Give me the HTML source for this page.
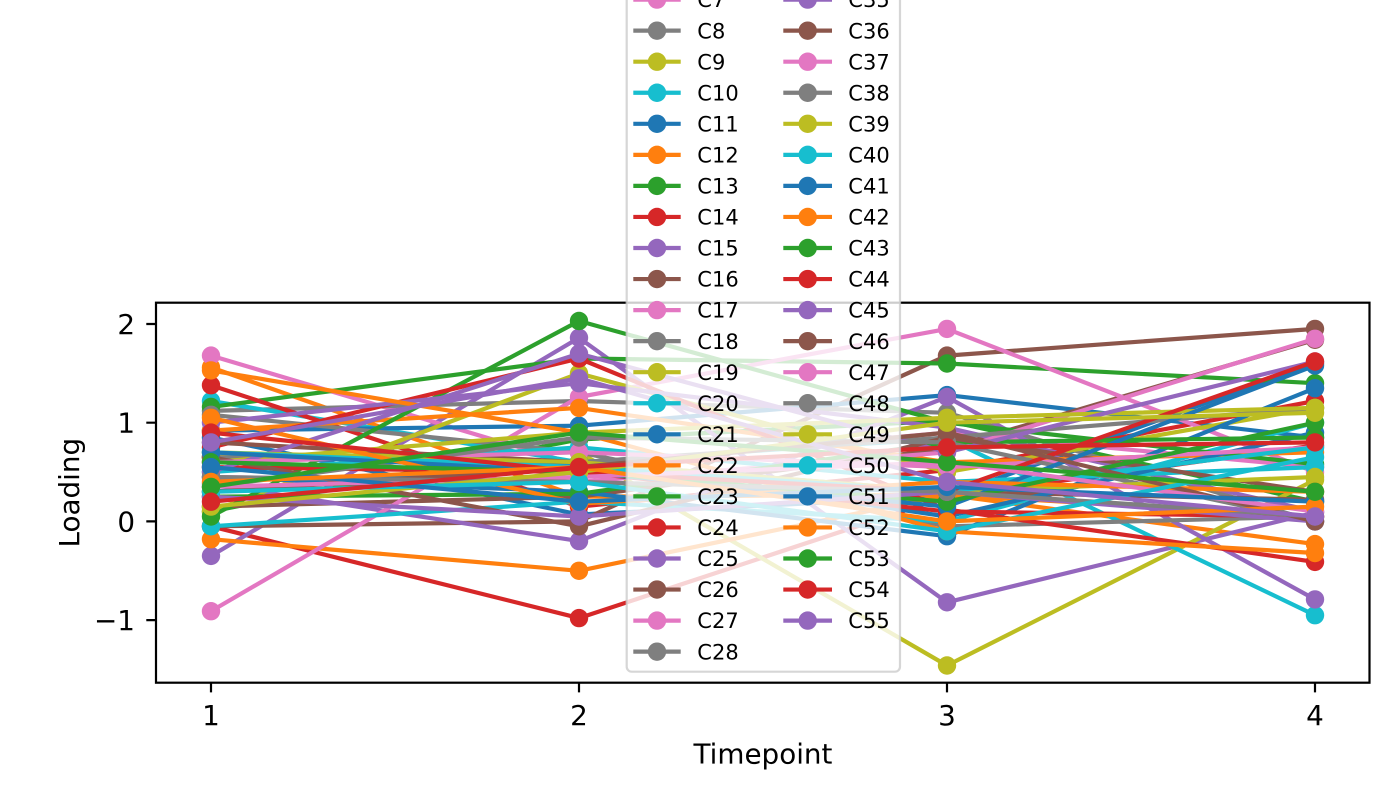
<!DOCTYPE html>
<html>
<head>
<meta charset="utf-8">
<style>
html,body{margin:0;padding:0;background:#fff;}
svg{display:block;font-family:"DejaVu Sans","Liberation Sans",sans-serif;}
.s polyline{fill:none;stroke-width:4.2;stroke-linejoin:round;}
.c0{stroke:#1f77b4;marker-start:url(#m0);marker-mid:url(#m0);marker-end:url(#m0)}
.c1{stroke:#ff7f0e;marker-start:url(#m1);marker-mid:url(#m1);marker-end:url(#m1)}
.c2{stroke:#2ca02c;marker-start:url(#m2);marker-mid:url(#m2);marker-end:url(#m2)}
.c3{stroke:#d62728;marker-start:url(#m3);marker-mid:url(#m3);marker-end:url(#m3)}
.c4{stroke:#9467bd;marker-start:url(#m4);marker-mid:url(#m4);marker-end:url(#m4)}
.c5{stroke:#8c564b;marker-start:url(#m5);marker-mid:url(#m5);marker-end:url(#m5)}
.c6{stroke:#e377c2;marker-start:url(#m6);marker-mid:url(#m6);marker-end:url(#m6)}
.c7{stroke:#7f7f7f;marker-start:url(#m7);marker-mid:url(#m7);marker-end:url(#m7)}
.c8{stroke:#bcbd22;marker-start:url(#m8);marker-mid:url(#m8);marker-end:url(#m8)}
.c9{stroke:#17becf;marker-start:url(#m9);marker-mid:url(#m9);marker-end:url(#m9)}
.lg polyline{fill:none;stroke-width:4.2;marker-start:none;marker-end:none}
.lg text{font-size:21px;fill:#000}
.tk{font-size:27.8px;fill:#000}
</style>
</head>
<body>
<svg width="1400" height="800" viewBox="0 0 1400 800" xmlns="http://www.w3.org/2000/svg">
<defs>
<marker id="m0" markerUnits="userSpaceOnUse" markerWidth="20" markerHeight="20" refX="10" refY="10" viewBox="0 0 20 20" overflow="visible"><circle cx="10" cy="10" r="9.2" fill="#1f77b4"/></marker>
<marker id="m1" markerUnits="userSpaceOnUse" markerWidth="20" markerHeight="20" refX="10" refY="10" viewBox="0 0 20 20" overflow="visible"><circle cx="10" cy="10" r="9.2" fill="#ff7f0e"/></marker>
<marker id="m2" markerUnits="userSpaceOnUse" markerWidth="20" markerHeight="20" refX="10" refY="10" viewBox="0 0 20 20" overflow="visible"><circle cx="10" cy="10" r="9.2" fill="#2ca02c"/></marker>
<marker id="m3" markerUnits="userSpaceOnUse" markerWidth="20" markerHeight="20" refX="10" refY="10" viewBox="0 0 20 20" overflow="visible"><circle cx="10" cy="10" r="9.2" fill="#d62728"/></marker>
<marker id="m4" markerUnits="userSpaceOnUse" markerWidth="20" markerHeight="20" refX="10" refY="10" viewBox="0 0 20 20" overflow="visible"><circle cx="10" cy="10" r="9.2" fill="#9467bd"/></marker>
<marker id="m5" markerUnits="userSpaceOnUse" markerWidth="20" markerHeight="20" refX="10" refY="10" viewBox="0 0 20 20" overflow="visible"><circle cx="10" cy="10" r="9.2" fill="#8c564b"/></marker>
<marker id="m6" markerUnits="userSpaceOnUse" markerWidth="20" markerHeight="20" refX="10" refY="10" viewBox="0 0 20 20" overflow="visible"><circle cx="10" cy="10" r="9.2" fill="#e377c2"/></marker>
<marker id="m7" markerUnits="userSpaceOnUse" markerWidth="20" markerHeight="20" refX="10" refY="10" viewBox="0 0 20 20" overflow="visible"><circle cx="10" cy="10" r="9.2" fill="#7f7f7f"/></marker>
<marker id="m8" markerUnits="userSpaceOnUse" markerWidth="20" markerHeight="20" refX="10" refY="10" viewBox="0 0 20 20" overflow="visible"><circle cx="10" cy="10" r="9.2" fill="#bcbd22"/></marker>
<marker id="m9" markerUnits="userSpaceOnUse" markerWidth="20" markerHeight="20" refX="10" refY="10" viewBox="0 0 20 20" overflow="visible"><circle cx="10" cy="10" r="9.2" fill="#17becf"/></marker>
</defs>
<rect x="0" y="0" width="1400" height="800" fill="#fff"/>
<g class="s">
<polyline class="c0" points="211,437.5 579,514.5 947,496.7 1315,363.5"/>
<polyline class="c1" points="211,367.4 579,496.7 947,494.8 1315,544.1"/>
<polyline class="c2" points="211,511.5 579,439.5 947,420.7 1315,501.7"/>
<polyline class="c3" points="211,526.3 579,618.1 947,496.7 1315,445.4"/>
<polyline class="c4" points="211,555.9 579,337.8 947,602.3 1315,512.5"/>
<polyline class="c5" points="211,526.3 579,521.4 947,355.6 1315,328.9"/>
<polyline class="c6" points="211,355.6 579,465.1 947,432.6 1315,467.1"/>
<polyline class="c7" points="211,410.9 579,401.0 947,412.8 1315,521.4"/>
<polyline class="c8" points="211,457.2 579,452.3 947,665.5 1315,479.9"/>
<polyline class="c9" points="211,401.0 579,462.2 947,438.5 1315,615.2"/>
<polyline class="c0" points="211,430.6 579,425.7 947,395.1 1315,437.5"/>
<polyline class="c1" points="211,539.2 579,570.8 947,494.8 1315,516.5"/>
<polyline class="c2" points="211,406.9 579,358.5 947,363.5 1315,383.2"/>
<polyline class="c3" points="211,385.2 579,506.6 947,470.1 1315,401.0"/>
<polyline class="c4" points="211,483.9 579,541.1 947,397.0 1315,599.4"/>
<polyline class="c5" points="211,506.6 579,496.7 947,448.4 1315,339.8"/>
<polyline class="c6" points="211,611.2 579,397.0 947,328.9 1315,472.0"/>
<polyline class="c7" points="211,414.8 579,452.3 947,526.3 1315,516.5"/>
<polyline class="c8" points="211,511.5 579,373.4 947,472.0 1315,407.9"/>
<polyline class="c9" points="211,526.3 579,501.7 947,521.4 1315,422.7"/>
<polyline class="c0" points="211,477.0 579,491.8 947,536.2 1315,388.2"/>
<polyline class="c1" points="211,430.6 579,407.9 947,462.2 1315,452.3"/>
<polyline class="c2" points="211,516.5 579,321.0 947,422.7 1315,464.2"/>
<polyline class="c3" points="211,447.4 579,358.5 947,509.6 1315,561.9"/>
<polyline class="c4" points="211,422.7 579,383.2 947,427.6 1315,511.5"/>
<polyline class="c5" points="211,442.4 579,462.2 947,491.8 1315,499.7"/>
<polyline class="c6" points="211,477.0 579,481.9 947,452.3 1315,338.8"/>
<polyline class="c7" points="211,457.2 579,462.2 947,437.5 1315,407.9"/>
<polyline class="c8" points="211,462.2 579,432.6 947,417.8 1315,407.9"/>
<polyline class="c9" points="211,472.0 579,447.4 947,481.9 1315,467.1"/>
<polyline class="c0" points="211,491.8 579,462.2 947,516.5 1315,432.6"/>
<polyline class="c1" points="211,370.4 579,432.6 947,531.3 1315,553.0"/>
<polyline class="c2" points="211,496.7 579,493.8 947,442.4 1315,437.5"/>
<polyline class="c3" points="211,467.1 579,472.0 947,511.5 1315,516.5"/>
<polyline class="c4" points="211,472.0 579,353.6 947,452.3 1315,361.5"/>
<polyline class="c5" points="211,457.2 579,526.3 947,437.5 1315,491.8"/>
<polyline class="c6" points="211,462.2 579,452.3 947,467.1 1315,447.4"/>
<polyline class="c7" points="211,486.9 579,437.5 947,442.4 1315,521.4"/>
<polyline class="c8" points="211,452.3 579,462.2 947,491.8 1315,477.0"/>
<polyline class="c9" points="211,452.3 579,467.1 947,491.8 1315,447.4"/>
<polyline class="c0" points="211,452.3 579,472.0 947,506.6 1315,365.5"/>
<polyline class="c1" points="211,417.8 579,503.6 947,481.9 1315,491.8"/>
<polyline class="c2" points="211,462.2 579,472.0 947,501.7 1315,422.7"/>
<polyline class="c3" points="211,432.6 579,472.0 947,491.8 1315,361.5"/>
<polyline class="c4" points="211,496.7 579,516.5 947,491.8 1315,521.4"/>
<polyline class="c5" points="211,491.8 579,467.1 947,432.6 1315,521.4"/>
<polyline class="c6" points="211,486.9 579,477.0 947,462.2 1315,511.5"/>
<polyline class="c7" points="211,477.0 579,481.9 947,491.8 1315,516.5"/>
<polyline class="c8" points="211,506.6 579,472.0 947,422.7 1315,412.8"/>
<polyline class="c9" points="211,491.8 579,481.9 947,531.3 1315,457.2"/>
<polyline class="c0" points="211,467.1 579,501.7 947,486.9 1315,501.7"/>
<polyline class="c1" points="211,481.9 579,467.1 947,521.4 1315,506.6"/>
<polyline class="c2" points="211,486.9 579,432.6 947,462.2 1315,491.8"/>
<polyline class="c3" points="211,501.7 579,467.1 947,447.4 1315,442.4"/>
<polyline class="c4" points="211,442.4 579,378.3 947,481.9 1315,516.5"/>
</g>
<rect x="156" y="302.7" width="1213.5" height="380" fill="none" stroke="#000" stroke-width="2.2"/>
<g stroke="#000" stroke-width="2.2">
<path d="M211 682.7V692.4M579 682.7V692.4M947 682.7V692.4M1315 682.7V692.4"/>
<path d="M146.3 620.1H156M146.3 521.4H156M146.3 422.7H156M146.3 324H156"/>
</g>
<g class="tk" text-anchor="middle">
<text x="211" y="725">1</text>
<text x="579" y="725">2</text>
<text x="947" y="725">3</text>
<text x="1315" y="725">4</text>
</g>
<g class="tk" text-anchor="end">
<text x="135" y="630.1">−1</text>
<text x="135" y="531.4">0</text>
<text x="135" y="432.7">1</text>
<text x="135" y="334">2</text>
</g>
<text class="tk" x="763" y="763.5" text-anchor="middle">Timepoint</text>
<text class="tk" transform="translate(79,492.7) rotate(-90)" text-anchor="middle">Loading</text>
<rect x="626.7" y="-260" width="273.3" height="931.7" rx="5" ry="5" fill="#fff" fill-opacity="0.8" stroke="#cccccc" stroke-opacity="0.8" stroke-width="2.2"/>
<g class="lg">
<polyline class="c6" points="633.3,-0.4 657,-0.4 680.7,-0.4"/><text x="697.3" y="7.2">C7</text>
<polyline class="c7" points="633.3,30.65 657,30.65 680.7,30.65"/><text x="697.3" y="38.25">C8</text>
<polyline class="c8" points="633.3,61.7 657,61.7 680.7,61.7"/><text x="697.3" y="69.3">C9</text>
<polyline class="c9" points="633.3,92.75 657,92.75 680.7,92.75"/><text x="697.3" y="100.35">C10</text>
<polyline class="c0" points="633.3,123.8 657,123.8 680.7,123.8"/><text x="697.3" y="131.4">C11</text>
<polyline class="c1" points="633.3,154.85 657,154.85 680.7,154.85"/><text x="697.3" y="162.45">C12</text>
<polyline class="c2" points="633.3,185.9 657,185.9 680.7,185.9"/><text x="697.3" y="193.5">C13</text>
<polyline class="c3" points="633.3,216.95 657,216.95 680.7,216.95"/><text x="697.3" y="224.55">C14</text>
<polyline class="c4" points="633.3,248 657,248 680.7,248"/><text x="697.3" y="255.6">C15</text>
<polyline class="c5" points="633.3,279.05 657,279.05 680.7,279.05"/><text x="697.3" y="286.65">C16</text>
<polyline class="c6" points="633.3,310.1 657,310.1 680.7,310.1"/><text x="697.3" y="317.7">C17</text>
<polyline class="c7" points="633.3,341.15 657,341.15 680.7,341.15"/><text x="697.3" y="348.75">C18</text>
<polyline class="c8" points="633.3,372.2 657,372.2 680.7,372.2"/><text x="697.3" y="379.8">C19</text>
<polyline class="c9" points="633.3,403.25 657,403.25 680.7,403.25"/><text x="697.3" y="410.85">C20</text>
<polyline class="c0" points="633.3,434.3 657,434.3 680.7,434.3"/><text x="697.3" y="441.9">C21</text>
<polyline class="c1" points="633.3,465.35 657,465.35 680.7,465.35"/><text x="697.3" y="472.95">C22</text>
<polyline class="c2" points="633.3,496.4 657,496.4 680.7,496.4"/><text x="697.3" y="504">C23</text>
<polyline class="c3" points="633.3,527.45 657,527.45 680.7,527.45"/><text x="697.3" y="535.05">C24</text>
<polyline class="c4" points="633.3,558.5 657,558.5 680.7,558.5"/><text x="697.3" y="566.1">C25</text>
<polyline class="c5" points="633.3,589.55 657,589.55 680.7,589.55"/><text x="697.3" y="597.15">C26</text>
<polyline class="c6" points="633.3,620.6 657,620.6 680.7,620.6"/><text x="697.3" y="628.2">C27</text>
<polyline class="c7" points="633.3,651.65 657,651.65 680.7,651.65"/><text x="697.3" y="659.25">C28</text>
<polyline class="c4" points="783.3,-0.4 807.7,-0.4 832,-0.4"/><text x="848.3" y="7.2">C35</text>
<polyline class="c5" points="783.3,30.65 807.7,30.65 832,30.65"/><text x="848.3" y="38.25">C36</text>
<polyline class="c6" points="783.3,61.7 807.7,61.7 832,61.7"/><text x="848.3" y="69.3">C37</text>
<polyline class="c7" points="783.3,92.75 807.7,92.75 832,92.75"/><text x="848.3" y="100.35">C38</text>
<polyline class="c8" points="783.3,123.8 807.7,123.8 832,123.8"/><text x="848.3" y="131.4">C39</text>
<polyline class="c9" points="783.3,154.85 807.7,154.85 832,154.85"/><text x="848.3" y="162.45">C40</text>
<polyline class="c0" points="783.3,185.9 807.7,185.9 832,185.9"/><text x="848.3" y="193.5">C41</text>
<polyline class="c1" points="783.3,216.95 807.7,216.95 832,216.95"/><text x="848.3" y="224.55">C42</text>
<polyline class="c2" points="783.3,248 807.7,248 832,248"/><text x="848.3" y="255.6">C43</text>
<polyline class="c3" points="783.3,279.05 807.7,279.05 832,279.05"/><text x="848.3" y="286.65">C44</text>
<polyline class="c4" points="783.3,310.1 807.7,310.1 832,310.1"/><text x="848.3" y="317.7">C45</text>
<polyline class="c5" points="783.3,341.15 807.7,341.15 832,341.15"/><text x="848.3" y="348.75">C46</text>
<polyline class="c6" points="783.3,372.2 807.7,372.2 832,372.2"/><text x="848.3" y="379.8">C47</text>
<polyline class="c7" points="783.3,403.25 807.7,403.25 832,403.25"/><text x="848.3" y="410.85">C48</text>
<polyline class="c8" points="783.3,434.3 807.7,434.3 832,434.3"/><text x="848.3" y="441.9">C49</text>
<polyline class="c9" points="783.3,465.35 807.7,465.35 832,465.35"/><text x="848.3" y="472.95">C50</text>
<polyline class="c0" points="783.3,496.4 807.7,496.4 832,496.4"/><text x="848.3" y="504">C51</text>
<polyline class="c1" points="783.3,527.45 807.7,527.45 832,527.45"/><text x="848.3" y="535.05">C52</text>
<polyline class="c2" points="783.3,558.5 807.7,558.5 832,558.5"/><text x="848.3" y="566.1">C53</text>
<polyline class="c3" points="783.3,589.55 807.7,589.55 832,589.55"/><text x="848.3" y="597.15">C54</text>
<polyline class="c4" points="783.3,620.6 807.7,620.6 832,620.6"/><text x="848.3" y="628.2">C55</text>
</g>
</svg>
</body>
</html>
